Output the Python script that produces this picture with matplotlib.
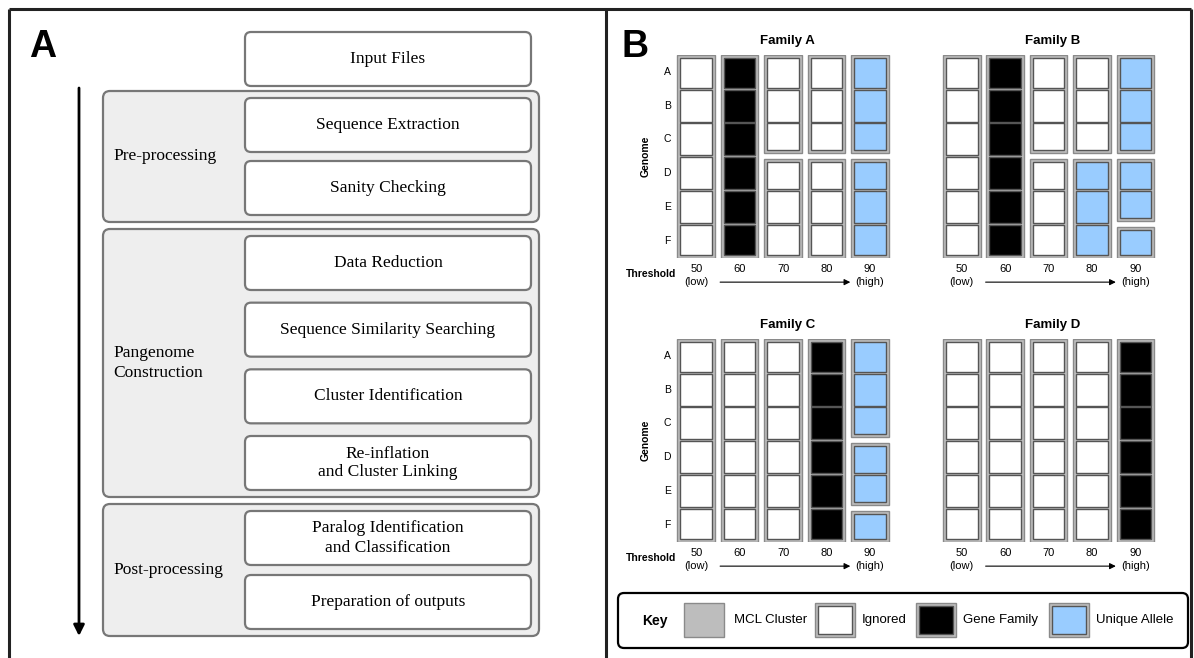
import matplotlib.pyplot as plt
from matplotlib.patches import FancyBboxPatch, Rectangle

# ---- data: panel A (pipeline steps) ----
input_step = "Input Files"
stage_names = ["Pre-processing", "Pangenome\nConstruction", "Post-processing"]
stage_steps = [
    ["Sequence Extraction", "Sanity Checking"],
    ["Data Reduction", "Sequence Similarity Searching",
     "Cluster Identification", "Re-inflation\nand Cluster Linking"],
    ["Paralog Identification\nand Classification", "Preparation of outputs"],
]

# ---- data: panel B (MCL clusters per threshold) ----
thresholds = [50, 60, 70, 80, 90]
threshold_notes = ["(low)", "", "", "", "(high)"]
genomes = ["A", "B", "C", "D", "E", "F"]
family_names = ["Family A", "Family B", "Family C", "Family D"]
# genomes per MCL cluster, for each threshold
clusters_a = [[6], [6], [3, 3], [3, 3], [3, 3]]
clusters_b = [[6], [6], [3, 3], [3, 3], [3, 2, 1]]
clusters_c = [[6], [6], [6], [6], [3, 2, 1]]
clusters_d = [[6], [6], [6], [6], [6]]
# state of each cluster: I = ignored, G = gene family, U = unique allele
states_a = [["I"], ["G"], ["I", "I"], ["I", "I"], ["U", "U"]]
states_b = [["I"], ["G"], ["I", "I"], ["I", "U"], ["U", "U", "U"]]
states_c = [["I"], ["I"], ["I"], ["G"], ["U", "U", "U"]]
states_d = [["I"], ["I"], ["I"], ["I"], ["G"]]
key_labels = ["MCL Cluster", "Ignored", "Gene Family", "Unique Allele"]
key_states = ["M", "I", "G", "U"]

state_colors = {"I": "white", "G": "black", "U": "#99ccff"}
cluster_fill = "#bdbdbd"
cluster_edge = "#8a8a8a"
cell_edge = "#555555"

W, H = 1194, 658
fig = plt.figure(figsize=(W / 100, H / 100), dpi=100)
bg = fig.add_axes([0, 0, 1, 1])
bg.set_xlim(0, W)
bg.set_ylim(H, 0)
bg.set_axis_off()

serif = "Liberation Serif"
sans = "Liberation Sans"

# panel frames
frame_kw = dict(color="#222222", lw=2.2, solid_capstyle="butt")
bg.plot([9, 1191], [9, 9], **frame_kw)
for fx in [9, 606, 1191]:
    bg.plot([fx, fx], [9, H], **frame_kw)

bg.text(29, 57, "A", fontsize=27, fontweight="bold", family=sans, va="baseline")
bg.text(622, 57, "B", fontsize=27, fontweight="bold", family=sans, va="baseline")

# ---- panel A ----
box_x0, box_w, box_h = 245, 286, 54
grp_x0, grp_w = 103, 436
grp_spans = [(91, 222), (229, 497), (504, 636)]
grp_pad = 7


def step_box(y0, label):
    bg.add_patch(FancyBboxPatch((box_x0, y0), box_w, box_h,
                                boxstyle="round,pad=0,rounding_size=6",
                                fc="white", ec="#777777", lw=1.6, zorder=3))
    bg.text(box_x0 + box_w / 2, y0 + box_h / 2, label, ha="center", va="center",
            family=serif, fontsize=12.5, linespacing=1.25, zorder=4)


step_box(32, input_step)
for (g0, g1), name, steps in zip(grp_spans, stage_names, stage_steps):
    bg.add_patch(FancyBboxPatch((grp_x0, g0), grp_w, g1 - g0,
                                boxstyle="round,pad=0,rounding_size=7",
                                fc="#eeeeee", ec="#777777", lw=1.6, zorder=2))
    bg.text(113, (g0 + g1) / 2, name, ha="left", va="center", family=serif,
            fontsize=12.5, linespacing=1.3, zorder=4)
    top, bot = g0 + grp_pad, g1 - grp_pad - box_h
    n = len(steps)
    for k, s in enumerate(steps):
        y0 = top + (bot - top) * k / (n - 1) if n > 1 else top
        step_box(y0, s)

bg.annotate("", xy=(79, 636), xytext=(79, 88),
            arrowprops=dict(arrowstyle="-|>", color="black", lw=2,
                            mutation_scale=16, shrinkA=0, shrinkB=0))

# ---- panel B ----
pitch_x, pitch_y = 43.4, 33.8
half_w = 18.75 / pitch_x
gap = 3.0 / pitch_y
inset_x, inset_y = 3.0 / pitch_x, 3.0 / pitch_y
sep = 0.9 / pitch_y

family_origin = [(677.5, 55), (943, 55), (677.5, 339), (943, 339)]
family_clusters = [clusters_a, clusters_b, clusters_c, clusters_d]
family_states = [states_a, states_b, states_c, states_d]
n_rows = len(genomes)

for fi, name in enumerate(family_names):
    x0, y0 = family_origin[fi]
    left = x0 - (pitch_x / 2 - half_w * pitch_x)
    ax = fig.add_axes([left / W, 1 - (y0 + n_rows * pitch_y) / H,
                       len(thresholds) * pitch_x / W, n_rows * pitch_y / H])
    ax.set_xlim(-0.5, len(thresholds) - 0.5)
    ax.set_ylim(n_rows - 0.5, -0.5)
    ax.set_axis_off()
    ax.patch.set_alpha(0)

    for ci, (sizes, sts) in enumerate(zip(family_clusters[fi], family_states[fi])):
        r0 = 0
        for size, st in zip(sizes, sts):
            r1 = r0 + size - 1
            top = r0 - 0.5 + (gap if r0 > 0 else 0)
            bot = r1 + 0.5 - (gap if r1 < n_rows - 1 else 0)
            ax.add_patch(Rectangle((ci - half_w, top), 2 * half_w, bot - top,
                                   fc=cluster_fill, ec=cluster_edge, lw=1))
            for r in range(r0, r1 + 1):
                ct = max(r - 0.5 + sep, top + inset_y)
                cb = min(r + 0.5 - sep, bot - inset_y)
                ax.add_patch(Rectangle((ci - half_w + inset_x, ct),
                                       2 * (half_w - inset_x), cb - ct,
                                       fc=state_colors[st], ec=cell_edge, lw=1))
            r0 = r1 + 1

    ax.text((len(thresholds) - 1) / 2 + 0.1, -0.83, name, ha="center",
            va="baseline", fontsize=9.5, fontweight="bold", family=sans)

    for ci, (t, note) in enumerate(zip(thresholds, threshold_notes)):
        ax.text(ci, 5.84, str(t), ha="center", va="center", fontsize=8, family=sans)
        if note:
            ax.text(ci, 6.22, note, ha="center", va="center", fontsize=8, family=sans)
    ax.annotate("", xy=(3.55, 6.22), xytext=(0.55, 6.22), annotation_clip=False,
                arrowprops=dict(arrowstyle="-|>", color="black", lw=0.8,
                                mutation_scale=9, shrinkA=0, shrinkB=0))

    if fi % 2 == 0:
        for r, g in enumerate(genomes):
            ax.text(-0.67, r, g, ha="center", va="center", fontsize=7.5, family=sans)
        ax.text(-1.16, (n_rows - 1) / 2, "Genome", rotation=90, ha="center",
                va="center", fontsize=7.5, fontweight="bold", family=sans)
        ax.text(-1.04, 5.98, "Threshold", ha="center", va="center", fontsize=7.5,
                fontweight="bold", family=sans)

# ---- key ----
bg.add_patch(FancyBboxPatch((618, 593), 570, 55, boxstyle="round,pad=0,rounding_size=6",
                            fc="white", ec="black", lw=1.6, zorder=2))
bg.text(655, 621, "Key", ha="center", va="center", fontsize=10, fontweight="bold",
        family=sans, zorder=4)
swatch_x = [684, 815, 915.5, 1048.5]
label_x = [734, 862, 963, 1096]
sw_w, sw_h, sw_y = 40, 34, 603
for sx, lx, lab, st in zip(swatch_x, label_x, key_labels, key_states):
    bg.add_patch(Rectangle((sx, sw_y), sw_w, sw_h, fc=cluster_fill,
                           ec=cluster_edge, lw=1, zorder=3))
    if st != "M":
        bg.add_patch(Rectangle((sx + 3, sw_y + 3), sw_w - 6, sw_h - 6,
                               fc=state_colors[st], ec=cell_edge, lw=1, zorder=3))
    bg.text(lx, 620, lab, ha="left", va="center", fontsize=9.5, family=sans, zorder=4)

fig.savefig("out.png", dpi=100)
